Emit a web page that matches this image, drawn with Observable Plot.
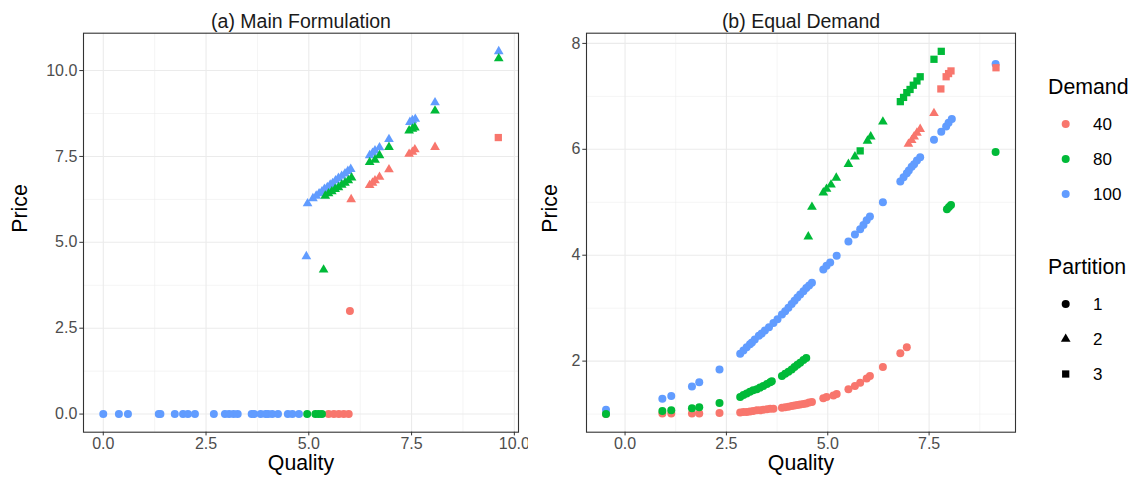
<!DOCTYPE html>
<html>
<head>
<meta charset="utf-8">
<script src="https://cdn.jsdelivr.net/npm/d3@7"></script>
<script src="https://cdn.jsdelivr.net/npm/@observablehq/plot@0.6"></script>
<style>
  body { margin: 0; background: #ffffff; }
  #chart { position: relative; width: 1137px; height: 490px; font-family: "Liberation Sans", Arial, sans-serif; }
  #chart > svg, #chart > figure { position: absolute; top: 0; margin: 0; }
</style>
</head>
<body>
<div id="chart"></div>
<script>
// ---- Categories and styling keys ----
const demandLevels = ["40", "80", "100"];
const demandColors = ["#F8766D", "#00BA38", "#619CFF"];
const partitionLevels = ["1", "2", "3"];
const panelTitles = ["(a) Main Formulation", "(b) Equal Demand"];
const xTitle = "Quality";
const yTitle = "Price";

// ---- (a) Main Formulation ----
// Partition 1 (circles)
const mainQ_40_p1 = [5.48, 5.61, 5.73, 5.85, 5.97, 6.00];
const mainP_40_p1 = [0, 0, 0, 0, 0, 3.00];
const mainQ_80_p1 = [4.96, 5.16, 5.24, 5.32];
const mainP_80_p1 = [0, 0, 0, 0];
const mainQ_100_p1 = [0.00, 0.38, 0.60, 1.35, 1.39, 1.74, 1.94, 2.06, 2.23, 2.69, 2.96, 3.06,
                      3.17, 3.27, 3.61, 3.67, 3.83, 3.95, 4.01, 4.11, 4.25, 4.49, 4.60, 4.76];
const mainP_100_p1 = [0, 0, 0, 0, 0, 0, 0, 0, 0, 0, 0, 0,
                      0, 0, 0, 0, 0, 0, 0, 0, 0, 0, 0, 0];
// Partition 2 (triangles)
const mainQ_40_p2 = [6.03, 6.48, 6.55, 6.61, 6.72, 6.95, 7.44, 7.52, 7.58, 8.07];
const mainP_40_p2 = [6.25, 6.66, 6.73, 6.80, 6.90, 7.12, 7.57, 7.63, 7.70, 7.77];
const mainQ_80_p2 = [5.36, 5.40, 5.48, 5.56, 5.64, 5.72, 5.80, 5.88, 5.96, 6.04,
                     6.48, 6.61, 6.72, 6.95, 7.44, 7.52, 7.58, 8.07, 9.62];
const mainP_80_p2 = [4.20, 6.35, 6.42, 6.48, 6.55, 6.60, 6.67, 6.73, 6.80, 6.88,
                     7.33, 7.40, 7.53, 7.77, 8.25, 8.30, 8.34, 8.83, 10.35];
const mainQ_100_p2 = [4.94, 4.97, 5.10, 5.18, 5.25, 5.32, 5.38, 5.45, 5.52, 5.58, 5.65, 5.72, 5.80,
                      5.88, 5.95, 6.02, 6.48, 6.55, 6.61, 6.72, 6.95, 7.46, 7.52, 7.59, 8.07, 9.62];
const mainP_100_p2 = [4.59, 6.13, 6.28, 6.35, 6.42, 6.48, 6.55, 6.60, 6.67, 6.72, 6.80, 6.87, 6.93,
                      7.00, 7.07, 7.13, 7.53, 7.60, 7.67, 7.76, 8.00, 8.50, 8.55, 8.59, 9.07, 10.56];
// Partition 3 (squares)
const mainQ_40_p3 = [9.61];
const mainP_40_p3 = [8.05];

// ---- (b) Equal Demand ----
// Partition 1 (circles)
const equalQ_40_p1 = [-0.47, 0.92, 1.14, 1.65, 1.83, 2.33, 2.84, 2.92, 3.00, 3.08, 3.16, 3.25, 3.33, 3.41,
                      3.50, 3.58, 3.66, 3.87, 3.95, 4.03, 4.11, 4.18, 4.25, 4.32, 4.40, 4.47, 4.54, 4.61,
                      4.89, 4.97, 5.14, 5.22, 5.51, 5.67, 5.80, 5.96, 6.04, 6.36, 6.79, 6.95];
const equalP_40_p1 = [1.00, 1.01, 1.01, 1.01, 1.01, 1.02, 1.03, 1.04, 1.04, 1.05, 1.06, 1.07, 1.07, 1.08,
                      1.09, 1.10, 1.10, 1.12, 1.13, 1.14, 1.15, 1.16, 1.17, 1.18, 1.19, 1.20, 1.22, 1.23,
                      1.30, 1.32, 1.35, 1.38, 1.47, 1.53, 1.59, 1.67, 1.72, 1.89, 2.15, 2.26];
const equalQ_80_p1 = [-0.47, 0.92, 1.14, 1.65, 1.83, 2.33, 2.84, 2.92, 3.00, 3.08, 3.16, 3.25, 3.33, 3.41,
                      3.50, 3.58, 3.62, 3.87, 3.95, 4.03, 4.11, 4.18, 4.25, 4.32, 4.40, 4.47,
                      7.94, 7.99, 8.04, 9.14];
const equalP_80_p1 = [1.00, 1.06, 1.07, 1.11, 1.13, 1.21, 1.32, 1.36, 1.39, 1.42, 1.45, 1.47, 1.50, 1.53,
                      1.57, 1.60, 1.62, 1.72, 1.76, 1.80, 1.84, 1.89, 1.93, 1.97, 2.02, 2.06,
                      4.87, 4.91, 4.95, 5.95];
const equalQ_100_p1 = [-0.47, 0.92, 1.14, 1.65, 1.83, 2.33, 2.84, 2.92, 3.00, 3.08, 3.13, 3.20, 3.30, 3.37,
                       3.45, 3.55, 3.66, 3.76, 3.87, 3.95, 4.03, 4.11, 4.18, 4.25, 4.32, 4.40, 4.47, 4.54,
                       4.61, 4.89, 4.97, 5.06, 5.22, 5.51, 5.67, 5.80, 5.88, 5.96, 6.04, 6.36, 6.79, 6.87,
                       6.95, 7.00, 7.07, 7.13, 7.20, 7.28, 7.62, 7.80, 7.92, 7.98, 8.06, 9.14];
const equalP_100_p1 = [1.08, 1.29, 1.34, 1.52, 1.60, 1.84, 2.14, 2.20, 2.26, 2.32, 2.35, 2.41, 2.48, 2.52,
                       2.58, 2.64, 2.72, 2.79, 2.88, 2.94, 3.01, 3.08, 3.14, 3.20, 3.26, 3.32, 3.38, 3.43,
                       3.48, 3.73, 3.80, 3.86, 3.99, 4.26, 4.39, 4.49, 4.57, 4.66, 4.73, 5.00, 5.39, 5.47,
                       5.55, 5.60, 5.67, 5.72, 5.79, 5.85, 6.18, 6.33, 6.43, 6.50, 6.57, 7.61];
// Partition 2 (triangles)
const equalQ_40_p2 = [6.99, 7.07, 7.13, 7.20, 7.28, 7.62];
const equalP_40_p2 = [6.10, 6.17, 6.24, 6.31, 6.38, 6.68];
const equalQ_80_p2 = [4.52, 4.61, 4.89, 4.97, 5.08, 5.21, 5.51, 5.67, 5.98, 6.06, 6.36];
const equalP_80_p2 = [4.35, 4.91, 5.18, 5.25, 5.33, 5.46, 5.72, 5.86, 6.16, 6.24, 6.52];
// Partition 3 (squares)
const equalQ_40_p3 = [7.79, 7.92, 7.98, 8.04, 9.15];
const equalP_40_p3 = [7.14, 7.37, 7.43, 7.48, 7.54];
const equalQ_80_p3 = [5.80, 6.79, 6.87, 6.95, 7.03, 7.11, 7.20, 7.28, 7.62, 7.80];
const equalP_80_p3 = [5.97, 6.90, 6.98, 7.07, 7.13, 7.21, 7.29, 7.37, 7.70, 7.85];

// ---- Axis breaks ----
const mainXMajor = [0, 2.5, 5, 7.5, 10];
const mainXMinor = [1.25, 3.75, 6.25, 8.75];
const mainYMajor = [0, 2.5, 5, 7.5, 10];
const mainYMinor = [1.25, 3.75, 6.25, 8.75];
const equalXMajor = [0, 2.5, 5, 7.5];
const equalXMinor = [1.25, 3.75, 6.25, 8.75];
const equalYMajor = [2, 4, 6, 8];
const equalYMinor = [1, 3, 5, 7];

// ---- Assemble tidy rows (draw order: partition, then demand 40, 100, 80) ----
function rows(q, p, demand, partition) {
  return q.map((v, i) => ({quality: v, price: p[i], demand, partition}));
}
const mainData = [
  ...rows(mainQ_40_p1, mainP_40_p1, "40", "1"),
  ...rows(mainQ_100_p1, mainP_100_p1, "100", "1"),
  ...rows(mainQ_80_p1, mainP_80_p1, "80", "1"),
  ...rows(mainQ_40_p2, mainP_40_p2, "40", "2"),
  ...rows(mainQ_100_p2, mainP_100_p2, "100", "2"),
  ...rows(mainQ_80_p2, mainP_80_p2, "80", "2"),
  ...rows(mainQ_40_p3, mainP_40_p3, "40", "3")
];
const equalData = [
  ...rows(equalQ_40_p1, equalP_40_p1, "40", "1"),
  ...rows(equalQ_100_p1, equalP_100_p1, "100", "1"),
  ...rows(equalQ_80_p1, equalP_80_p1, "80", "1"),
  ...rows(equalQ_40_p2, equalP_40_p2, "40", "2"),
  ...rows(equalQ_80_p2, equalP_80_p2, "80", "2"),
  ...rows(equalQ_40_p3, equalP_40_p3, "40", "3"),
  ...rows(equalQ_80_p3, equalP_80_p3, "80", "3")
];

const FONT = '"Liberation Sans", Arial, sans-serif';
const AXIS_TEXT = 16;
const TITLE_TEXT = 21.3;
const STRIP_TEXT = 19.5;
const LEGEND_TEXT = 17;
const shapeOf = {"1": {symbol: "circle", r: 4}, "2": {symbol: "triangle", r: 3.6}, "3": {symbol: "square", r: 4.1}};

// Expanded range like ggplot's default 5% padding
function expand(values) {
  const [lo, hi] = d3.extent(values);
  const pad = (hi - lo) * 0.05;
  return [lo - pad, hi + pad];
}

function panel({data, title, xMajor, xMinor, yMajor, yMinor, xFormat, yFormat, width, left, marginLeft, marginRight, yTitleDx}) {
  const chart = Plot.plot({
    width, height: 490,
    marginLeft, marginRight, marginTop: 32.7, marginBottom: 58.3,
    style: {fontFamily: FONT, background: "#ffffff", overflow: "visible"},
    x: {domain: expand(data.map(d => d.quality))},
    y: {domain: expand(data.map(d => d.price))},
    color: {domain: demandLevels, range: demandColors},
    marks: [
      Plot.ruleX(xMinor, {stroke: "#EBEBEB", strokeWidth: 0.55}),
      Plot.ruleY(yMinor, {stroke: "#EBEBEB", strokeWidth: 0.55}),
      Plot.ruleX(xMajor, {stroke: "#EBEBEB", strokeWidth: 1.1}),
      Plot.ruleY(yMajor, {stroke: "#EBEBEB", strokeWidth: 1.1}),
      ...partitionLevels.map(p => Plot.dot(data, {
        filter: d => d.partition === p,
        x: "quality", y: "price", fill: "demand",
        symbol: shapeOf[p].symbol, r: shapeOf[p].r
      })),
      Plot.frame({stroke: "#333333", strokeWidth: 1.1}),
      Plot.axisX(xMajor, {tickSize: 3.7, tickPadding: 1.5, tickFormat: xFormat, stroke: "#333333",
                          fill: "#4D4D4D", fontSize: AXIS_TEXT, label: null}),
      Plot.axisY(yMajor, {tickSize: 3.7, tickPadding: 2.5, tickFormat: yFormat, stroke: "#333333",
                          fill: "#4D4D4D", fontSize: AXIS_TEXT, label: null}),
      Plot.text([title], {frameAnchor: "top", dy: -19.5, fontSize: STRIP_TEXT, fill: "#1A1A1A"}),
      Plot.text([xTitle], {frameAnchor: "bottom", dy: 38, fontSize: TITLE_TEXT, fill: "#000000"}),
      Plot.text([yTitle], {frameAnchor: "left", dx: yTitleDx, rotate: -90, fontSize: TITLE_TEXT, fill: "#000000"})
    ]
  });
  chart.style.left = left + "px";
  return chart;
}

const root = document.getElementById("chart");
root.append(panel({
  data: mainData, title: panelTitles[0],
  xMajor: mainXMajor, xMinor: mainXMinor, yMajor: mainYMajor, yMinor: mainYMinor,
  xFormat: d3.format(".1f"), yFormat: d3.format(".1f"),
  width: 540, left: 0, marginLeft: 83, marginRight: 22, yTitleDx: -63
}));
// the right-hand panel sits on top, trimming the left panel's last tick label
root.append(panel({
  data: equalData, title: panelTitles[1],
  xMajor: equalXMajor, xMinor: equalXMinor, yMajor: equalYMajor, yMinor: equalYMinor,
  xFormat: d3.format(".1f"), yFormat: d3.format("d"),
  width: 508, left: 528, marginLeft: 58, marginRight: 21, yTitleDx: -36
}));

// ---- Legends: Demand (colour) and Partition (shape) ----
const legend = d3.select(root).append("svg")
  .attr("width", 101).attr("height", 490)
  .style("left", "1036px")
  .style("background", "#ffffff")
  .style("font-family", FONT);

function legendBlock(y0, title, labels, draw) {
  legend.append("text").attr("x", 12).attr("y", y0).attr("dy", "0.35em")
    .attr("font-size", TITLE_TEXT).attr("fill", "#000").text(title);
  labels.forEach((lab, i) => {
    const cy = y0 + 37.3 + i * 35;
    draw(legend, 29.7, cy, i);
    legend.append("text").attr("x", 57).attr("y", cy).attr("dy", "0.35em")
      .attr("font-size", LEGEND_TEXT).attr("fill", "#000").text(lab);
  });
}
legendBlock(86.7, "Demand", demandLevels, (g, x, y, i) => {
  g.append("circle").attr("cx", x).attr("cy", y).attr("r", 4).attr("fill", demandColors[i]);
});
const symbolTypes = [d3.symbolCircle, d3.symbolTriangle, d3.symbolSquare];
legendBlock(266.7, "Partition", partitionLevels, (g, x, y, i) => {
  const r = shapeOf[partitionLevels[i]].r;
  g.append("path").attr("transform", `translate(${x},${y})`)
    .attr("d", d3.symbol(symbolTypes[i], Math.PI * r * r)()).attr("fill", "#000");
});
</script>
</body>
</html>
